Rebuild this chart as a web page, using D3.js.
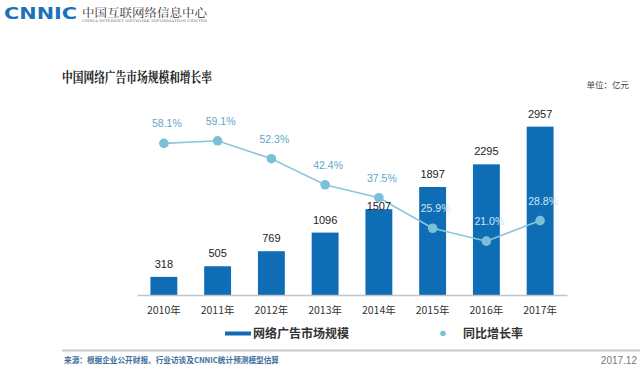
<!DOCTYPE html>
<html>
<head>
<meta charset="utf-8">
<script src="https://cdn.jsdelivr.net/npm/d3@7"></script>
<style>
  html, body { margin: 0; padding: 0; background: #fff; }
  svg { display: block; }
</style>
</head>
<body>
<svg id="chart" width="640" height="372"></svg>
<script>
const years = ["2010年", "2011年", "2012年", "2013年", "2014年", "2015年", "2016年", "2017年"];
const marketSize = [318, 505, 769, 1096, 1507, 1897, 2295, 2957];
const growthRate = [58.1, 59.1, 52.3, 42.4, 37.5, 25.9, 21.0, 28.8];
const barLabels = ["318", "505", "769", "1096", "1507", "1897", "2295", "2957"];
const rateLabels = ["58.1%", "59.1%", "52.3%", "42.4%", "37.5%", "25.9%", "21.0%", "28.8%"];
const seriesNames = ["网络广告市场规模", "同比增长率"];

const svg = d3.select("#chart");
const cjk = "'Noto Sans CJK SC', 'Noto Sans', sans-serif";
const serif = "'Noto Serif CJK SC', 'Noto Sans CJK SC', serif";

const barColor = "#0f6db5";
const lineColor = "#8cc6dd";
const dotColor = "#7bbfd9";

const x = d3.scaleBand().domain(years).range([137, 567]).paddingInner(0.5).paddingOuter(0.25);
const y = d3.scaleLinear().domain([0, 3000]).range([295, 124.2]);
const y2 = d3.scaleLinear().domain([0, 60]).range([296.5, 138.4]);

// Header logo
svg.append("text").attr("x", 4).attr("y", 18.5)
  .attr("font-family", "'DejaVu Sans', sans-serif").attr("font-weight", "bold")
  .attr("font-size", 15).attr("fill", "#1b72b9")
  .attr("textLength", 73).attr("lengthAdjust", "spacingAndGlyphs")
  .text("CNNIC");
svg.append("text").attr("x", 82).attr("y", 16.5)
  .attr("font-family", serif).attr("font-size", 11).attr("fill", "#333")
  .attr("textLength", 125).attr("lengthAdjust", "spacingAndGlyphs")
  .text("中国互联网络信息中心");
svg.append("text").attr("x", 82).attr("y", 21.5)
  .attr("font-family", "'DejaVu Serif', serif").attr("font-size", 3.5).attr("fill", "#777")
  .attr("textLength", 125).attr("lengthAdjust", "spacingAndGlyphs")
  .text("CHINA INTERNET NETWORK INFORMATION CENTER");

// Title
svg.append("text").attr("x", 62).attr("y", 82)
  .attr("font-family", serif).attr("font-weight", "bold")
  .attr("font-size", 14).attr("fill", "#222")
  .attr("textLength", 150).attr("lengthAdjust", "spacingAndGlyphs")
  .text("中国网络广告市场规模和增长率");
svg.append("text").attr("x", 629).attr("y", 88).attr("text-anchor", "end")
  .attr("font-family", cjk).attr("font-size", 8.5).attr("fill", "#444")
  .text("单位：亿元");

// Bars
svg.append("g").selectAll("rect").data(marketSize).join("rect")
  .attr("x", (d, i) => x(years[i]))
  .attr("width", x.bandwidth())
  .attr("y", d => y(d))
  .attr("height", d => y(0) - y(d))
  .attr("fill", barColor);

// Axis
const xAxis = d3.axisBottom(x).tickSize(0).tickPadding(12);
const ax = svg.append("g").attr("transform", "translate(0,295)").call(xAxis);
ax.select(".domain").attr("stroke", "#c4c4c4").attr("stroke-width", 1.5);
ax.selectAll("text").attr("font-family", cjk).attr("font-size", 10.5).attr("fill", "#333");

// Line
const cx = i => x(years[i]) + x.bandwidth() / 2;
const line = d3.line().x((d, i) => cx(i)).y(d => y2(d));
svg.append("path").datum(growthRate)
  .attr("d", line).attr("fill", "none")
  .attr("stroke", lineColor).attr("stroke-width", 1.6);
svg.append("g").selectAll("circle").data(growthRate).join("circle")
  .attr("cx", (d, i) => cx(i)).attr("cy", d => y2(d)).attr("r", 4.8)
  .attr("fill", dotColor);

// Bar labels (drawn above line; nudged down onto bar when a point sits in the label spot)
svg.append("g").selectAll("text").data(marketSize).join("text")
  .attr("x", (d, i) => x(years[i]) + x.bandwidth() / 2)
  .attr("y", (d, i) => Math.abs(y2(growthRate[i]) - (y(d) - 13)) < 10 ? y(d) + 0.5 : y(d) - 9)
  .attr("text-anchor", "middle")
  .attr("font-family", "'Liberation Sans', Arial, sans-serif")
  .attr("font-size", 11).attr("fill", "#222")
  .text((d, i) => barLabels[i]);

// Rate labels
svg.append("g").selectAll("text").data(growthRate).join("text")
  .attr("x", (d, i) => cx(i) + 3)
  .attr("y", d => y2(d) - 16)
  .attr("text-anchor", "middle")
  .attr("font-family", "'Liberation Sans', Arial, sans-serif")
  .attr("font-size", 10.5)
  .attr("fill", (d, i) => (y2(d) - 20 > y(marketSize[i])) ? "#cfe6f3" : "#5fa6cb")
  .text((d, i) => rateLabels[i]);

// Legend
svg.append("rect").attr("x", 225).attr("y", 331.5).attr("width", 26).attr("height", 4).attr("fill", barColor);
svg.append("text").attr("x", 253).attr("y", 337.5)
  .attr("font-family", cjk).attr("font-weight", "bold").attr("font-size", 12).attr("fill", "#333")
  .text(seriesNames[0]);
svg.append("circle").attr("cx", 443).attr("cy", 333.5).attr("r", 2.8).attr("fill", dotColor);
svg.append("text").attr("x", 463).attr("y", 337.5)
  .attr("font-family", cjk).attr("font-weight", "bold").attr("font-size", 12).attr("fill", "#333")
  .text(seriesNames[1]);

// Footer
svg.append("line").attr("x1", 62).attr("x2", 640).attr("y1", 350.5).attr("y2", 350.5)
  .attr("stroke", "#c8c8c8").attr("stroke-width", 1.8);
svg.append("text").attr("x", 64).attr("y", 363)
  .attr("font-family", cjk).attr("font-weight", "bold").attr("font-size", 8).attr("fill", "#3d6f9c")
  .attr("textLength", 215).attr("lengthAdjust", "spacingAndGlyphs")
  .text("来源：根据企业公开财报、行业访谈及CNNIC统计预测模型估算");
svg.append("text").attr("x", 637).attr("y", 364).attr("text-anchor", "end")
  .attr("font-family", "'Liberation Sans', Arial, sans-serif").attr("font-size", 10).attr("fill", "#777")
  .text("2017.12");
</script>
</body>
</html>
